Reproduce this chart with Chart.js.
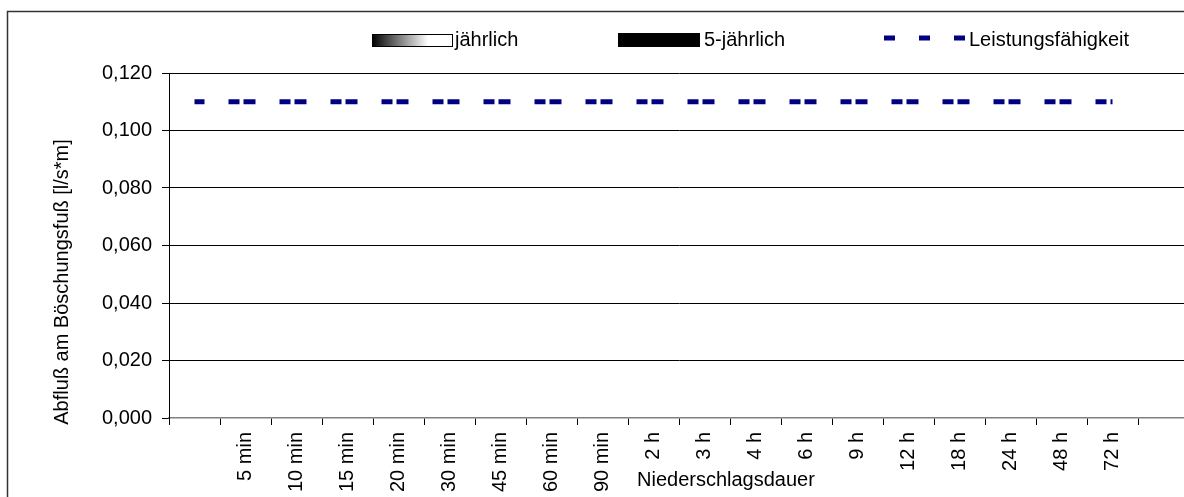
<!DOCTYPE html>
<html lang="de">
<head>
    <meta charset="UTF-8">
    <title>Abfluß am Böschungsfuß</title>
    <script src="https://cdn.jsdelivr.net/npm/chart.js"></script>
    <style>
        body {
            margin: 0;
            background: #fff;
        }
        #wrap {
            position: relative;
            width: 1184px;
            height: 497px;
            overflow: hidden;
        }
        canvas {
            display: block;
        }
    </style>
</head>
<body>
    <div id="wrap"><canvas id="chart" width="1220" height="497"></canvas></div>
    <script>
        // categories (first and last slot are empty in the original)
        const categories = ['', '5 min', '10 min', '15 min', '20 min', '30 min', '45 min', '60 min', '90 min',
            '2 h', '3 h', '4 h', '6 h', '9 h', '12 h', '18 h', '24 h', '48 h', '72 h', ''];

        // series values
        const jaehrlich = [null, 0, 0, 0, 0, 0, 0, 0, 0, 0, 0, 0, 0, 0, 0, 0, 0, 0, 0, null];
        const fuenfJaehrlich = [null, 0, 0, 0, 0, 0, 0, 0, 0, 0, 0, 0, 0, 0, 0, 0, 0, 0, 0, null];
        const leistung = [0.11, 0.11, 0.11, 0.11, 0.11, 0.11, 0.11, 0.11, 0.11, 0.11,
            0.11, 0.11, 0.11, 0.11, 0.11, 0.11, 0.11, 0.11, 0.11, null];

        // y axis ticks
        const yMin = 0;
        const yMax = 0.12;
        const yStep = 0.02;

        const yTitle = 'Abfluß am Böschungsfuß [l/s*m]';
        const xTitle = 'Niederschlagsdauer';

        const FONT = "'Liberation Sans', Arial, sans-serif";
        Chart.defaults.font.family = FONT;
        Chart.defaults.font.size = 20;
        Chart.defaults.color = '#000';

        // frame, axis titles and legend drawn by hand
        const extras = {
            id: 'extras',
            beforeDraw(chart) {
                const c = chart.ctx;
                c.save();
                c.fillStyle = '#fff';
                c.fillRect(0, 0, chart.width, chart.height);
                c.strokeStyle = '#333';
                c.lineWidth = 1.5;
                c.strokeRect(7.5, 11.5, chart.width + 20, chart.height + 20);
                c.restore();
            },
            afterDraw(chart) {
                const c = chart.ctx;
                const ds = chart.data.datasets;
                c.save();
                c.font = '20px ' + FONT;
                c.fillStyle = '#000';

                // y title
                c.save();
                c.translate(62, 282);
                c.rotate(-Math.PI / 2);
                c.textAlign = 'center';
                c.textBaseline = 'middle';
                c.fillText(yTitle, 0, 0);
                c.restore();

                // x title
                c.textAlign = 'left';
                c.textBaseline = 'alphabetic';
                c.fillText(xTitle, 637, 486);

                // legend: jährlich
                const g = c.createLinearGradient(372, 0, 452, 0);
                g.addColorStop(0, '#000');
                g.addColorStop(0.7, '#fff');
                g.addColorStop(1, '#fff');
                c.fillStyle = g;
                c.fillRect(372, 34, 80, 12);
                c.strokeStyle = '#000';
                c.lineWidth = 1;
                c.strokeRect(372.5, 34.5, 80, 12);
                c.fillStyle = '#000';
                c.fillText(ds[0].label, 455, 46);

                // legend: 5-jährlich
                c.fillStyle = ds[1].backgroundColor;
                c.fillRect(618, 33, 82, 14);
                c.fillStyle = '#000';
                c.fillText(ds[1].label, 704, 46);

                // legend: Leistungsfähigkeit
                c.strokeStyle = ds[2].borderColor;
                c.lineWidth = 5;
                c.setLineDash([11, 24]);
                c.beginPath();
                c.moveTo(884, 38);
                c.lineTo(965, 38);
                c.stroke();
                c.setLineDash([]);
                c.fillText(ds[2].label, 969, 46);

                c.restore();
            }
        };

        new Chart(document.getElementById('chart'), {
            type: 'bar',
            data: {
                labels: categories,
                datasets: [{
                    label: 'jährlich',
                    data: jaehrlich,
                    backgroundColor: '#808080',
                    borderWidth: 0
                }, {
                    label: '5-jährlich',
                    data: fuenfJaehrlich,
                    backgroundColor: '#000',
                    borderWidth: 0
                }, {
                    type: 'line',
                    label: 'Leistungsfähigkeit',
                    data: leistung,
                    borderColor: '#000080',
                    borderWidth: 5,
                    borderDash: [12, 24, 11, 4],
                    borderDashOffset: 2,
                    borderCapStyle: 'butt',
                    pointRadius: 0,
                    fill: false,
                    tension: 0
                }]
            },
            options: {
                responsive: false,
                animation: false,
                devicePixelRatio: 1,
                layout: {
                    padding: { top: 73, right: 31, left: 0, bottom: 0 }
                },
                plugins: {
                    legend: { display: false },
                    tooltip: { enabled: false }
                },
                scales: {
                    x: {
                        offset: true,
                        grid: {
                            offset: true,
                            drawOnChartArea: false,
                            drawTicks: true,
                            tickLength: 7,
                            tickColor: '#000'
                        },
                        border: { color: '#808080', width: 1.5 },
                        ticks: {
                            autoSkip: false,
                            maxRotation: 90,
                            minRotation: 90,
                            padding: 7,
                            color: '#000'
                        },
                        afterFit(scale) {
                            scale.height = 79;
                        }
                    },
                    y: {
                        min: yMin,
                        max: yMax,
                        grid: {
                            color: ctx => (ctx.tick && ctx.tick.value === 0) ? 'rgba(0,0,0,0)' : '#000',
                            tickColor: '#000',
                            tickLength: 7,
                            lineWidth: 1
                        },
                        border: { color: '#000', width: 1 },
                        ticks: {
                            stepSize: yStep,
                            padding: 10,
                            color: '#000',
                            callback: v => Number(v).toFixed(3).replace('.', ',')
                        },
                        afterFit(scale) {
                            scale.width = 169;
                        }
                    }
                }
            },
            plugins: [extras]
        });
    </script>
</body>
</html>
